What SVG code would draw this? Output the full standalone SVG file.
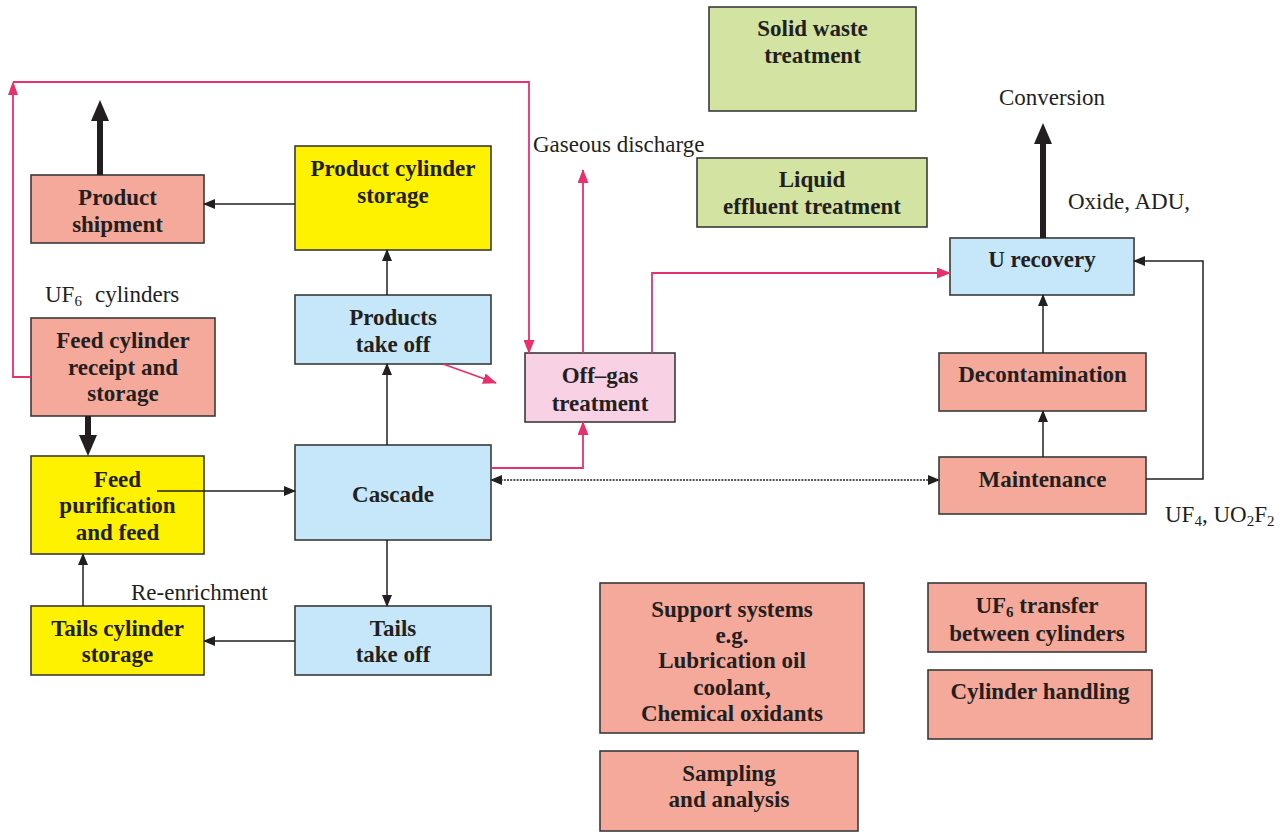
<svg xmlns="http://www.w3.org/2000/svg" width="1287" height="833" viewBox="0 0 1287 833">
<style>
.box{stroke:#3a3a3a;stroke-width:1.6}
.sal{fill:#f5a99b}.yel{fill:#fff200}.blu{fill:#c6e7f9}.pnk{fill:#f9d1e4}.grn{fill:#d3e3a1}
.t{font-family:"Liberation Serif",serif;font-weight:bold;font-size:23px;fill:#231f20;text-anchor:middle}
.l{font-family:"Liberation Serif",serif;font-size:23px;fill:#231f20}
.k{fill:none;stroke:#231f20;stroke-width:1.5}
.p{fill:none;stroke:#e6316d;stroke-width:1.8}
.th{fill:none;stroke:#231f20;stroke-width:6}
</style>
<defs>
<marker id="ah" markerUnits="userSpaceOnUse" markerWidth="12" markerHeight="10" refX="11" refY="5" orient="auto"><path d="M0,0 L12,5 L0,10 z" fill="#231f20"/></marker>
<marker id="ad" markerUnits="userSpaceOnUse" markerWidth="12" markerHeight="10" refX="11" refY="5" orient="auto-start-reverse"><path d="M0,0 L12,5 L0,10 z" fill="#231f20"/></marker>
<marker id="ap" markerUnits="userSpaceOnUse" markerWidth="14" markerHeight="11" refX="13" refY="5.5" orient="auto"><path d="M0,0 L14,5.5 L0,11 z" fill="#e6316d"/></marker>
</defs>
<rect width="1287" height="833" fill="#ffffff"/>

<g id="product-shipment"><rect class="box sal" x="31" y="175" width="173" height="68"/><text class="t" x="117.5" y="205">Product</text><text class="t" x="117.5" y="232">shipment</text></g>
<g id="product-cylinder-storage"><rect class="box yel" x="295" y="146" width="196" height="104"/><text class="t" x="393" y="176">Product cylinder</text><text class="t" x="393" y="203">storage</text></g>
<g id="products-take-off"><rect class="box blu" x="295" y="295" width="196" height="69"/><text class="t" x="393" y="325">Products</text><text class="t" x="393" y="352">take off</text></g>
<g id="feed-cylinder"><rect class="box sal" x="31" y="318" width="184" height="98"/><text class="t" x="123" y="348">Feed cylinder</text><text class="t" x="123" y="375">receipt and</text><text class="t" x="123" y="401">storage</text></g>
<g id="feed-purification"><rect class="box yel" x="31" y="456" width="173" height="98"/><text class="t" x="117.5" y="487">Feed</text><text class="t" x="117.5" y="513">purification</text><text class="t" x="117.5" y="540">and feed</text></g>
<g id="cascade"><rect class="box blu" x="295" y="445" width="196" height="95"/><text class="t" x="393" y="502">Cascade</text></g>
<g id="tails-cylinder-storage"><rect class="box yel" x="31" y="606" width="173" height="69"/><text class="t" x="117.5" y="636">Tails cylinder</text><text class="t" x="117.5" y="662">storage</text></g>
<g id="tails-take-off"><rect class="box blu" x="295" y="606" width="196" height="69"/><text class="t" x="393" y="636">Tails</text><text class="t" x="393" y="662">take off</text></g>
<g id="off-gas"><rect class="box pnk" x="525" y="353" width="150" height="69"/><text class="t" x="600" y="383">Off–gas</text><text class="t" x="600" y="411">treatment</text></g>
<g id="solid-waste"><rect class="box grn" x="709" y="7" width="207" height="104"/><text class="t" x="812.5" y="36">Solid waste</text><text class="t" x="812.5" y="63">treatment</text></g>
<g id="liquid-effluent"><rect class="box grn" x="697" y="158" width="230" height="69"/><text class="t" x="812" y="187">Liquid</text><text class="t" x="812" y="214">effluent treatment</text></g>
<g id="u-recovery"><rect class="box blu" x="950" y="238" width="184" height="57"/><text class="t" x="1042" y="267">U recovery</text></g>
<g id="decontamination"><rect class="box sal" x="939" y="353" width="207" height="58"/><text class="t" x="1042.5" y="382">Decontamination</text></g>
<g id="maintenance"><rect class="box sal" x="939" y="457" width="207" height="57"/><text class="t" x="1042.5" y="487">Maintenance</text></g>
<g id="support-systems"><rect class="box sal" x="600" y="583" width="264" height="150"/><text class="t" x="732" y="617">Support systems</text><text class="t" x="732" y="643">e.g.</text><text class="t" x="732" y="668">Lubrication oil</text><text class="t" x="732" y="695">coolant,</text><text class="t" x="732" y="721">Chemical oxidants</text></g>
<g id="sampling"><rect class="box sal" x="600" y="751" width="258" height="80"/><text class="t" x="729" y="781">Sampling</text><text class="t" x="729" y="807">and analysis</text></g>
<g id="uf6-transfer"><rect class="box sal" x="928" y="583" width="218" height="69"/><text class="t" x="1037" y="613">UF<tspan font-size="15" dy="4">6</tspan><tspan dy="-4"> transfer</tspan></text><text class="t" x="1037" y="641">between cylinders</text></g>
<g id="cylinder-handling"><rect class="box sal" x="928" y="670" width="224" height="69"/><text class="t" x="1040" y="699">Cylinder handling</text></g>

<g id="connectors">
<path class="p" d="M31,377 H13 V92"/>
<polygon points="13,81 8,95 18,95" fill="#e6316d"/>
<path class="p" d="M13,82 H529 V353" marker-end="url(#ap)"/>
<path class="p" d="M583,353 V170" marker-end="url(#ap)"/>
<path class="p" d="M652,353 V273 H950" marker-end="url(#ap)"/>
<path class="p" d="M491,468 H583 V422" marker-end="url(#ap)"/>
<path class="p" d="M443,364 L496,383" marker-end="url(#ap)"/>

<path class="k" d="M295,204 H204" marker-end="url(#ah)"/>
<path class="k" d="M387,295 V250" marker-end="url(#ah)"/>
<path class="k" d="M387,445 V364" marker-end="url(#ah)"/>
<path class="k" d="M157,491 H295" marker-end="url(#ah)"/>
<path class="k" d="M83,606 V554" marker-end="url(#ah)"/>
<path class="k" d="M387,540 V606" marker-end="url(#ah)"/>
<path class="k" d="M295,641 H204" marker-end="url(#ah)"/>
<path class="k" d="M1043,353 V295" marker-end="url(#ah)"/>
<path class="k" d="M1043,457 V411" marker-end="url(#ah)"/>
<path class="k" d="M1146,479 H1203 V261 H1134" marker-end="url(#ah)"/>
<path d="M491,480 H939" fill="none" stroke="#555555" stroke-width="1.8" stroke-dasharray="2,1.2" marker-start="url(#ad)" marker-end="url(#ad)"/>

<path class="th" d="M100,175 V118"/>
<polygon points="100,100 91,121 109,121" fill="#231f20"/>
<path class="th" d="M88,416 V438"/>
<polygon points="88,456 79,435 97,435" fill="#231f20"/>
<path class="th" d="M1043,238 V142"/>
<polygon points="1043,123 1034,144 1052,144" fill="#231f20"/>
</g>

<g id="labels">
<text class="l" x="533" y="152">Gaseous discharge</text>
<text class="l" x="999" y="105">Conversion</text>
<text class="l" x="1068" y="209">Oxide, ADU,</text>
<text class="l" x="1165" y="522">UF<tspan font-size="15" dy="4">4</tspan><tspan dy="-4">, UO</tspan><tspan font-size="15" dy="4">2</tspan><tspan dy="-4">F</tspan><tspan font-size="15" dy="4">2</tspan></text>
<text class="l" x="45" y="302">UF<tspan font-size="15" dy="4">6</tspan><tspan x="95" dy="-4">cylinders</tspan></text>
<text class="l" x="131" y="600">Re-enrichment</text>
</g>
</svg>
